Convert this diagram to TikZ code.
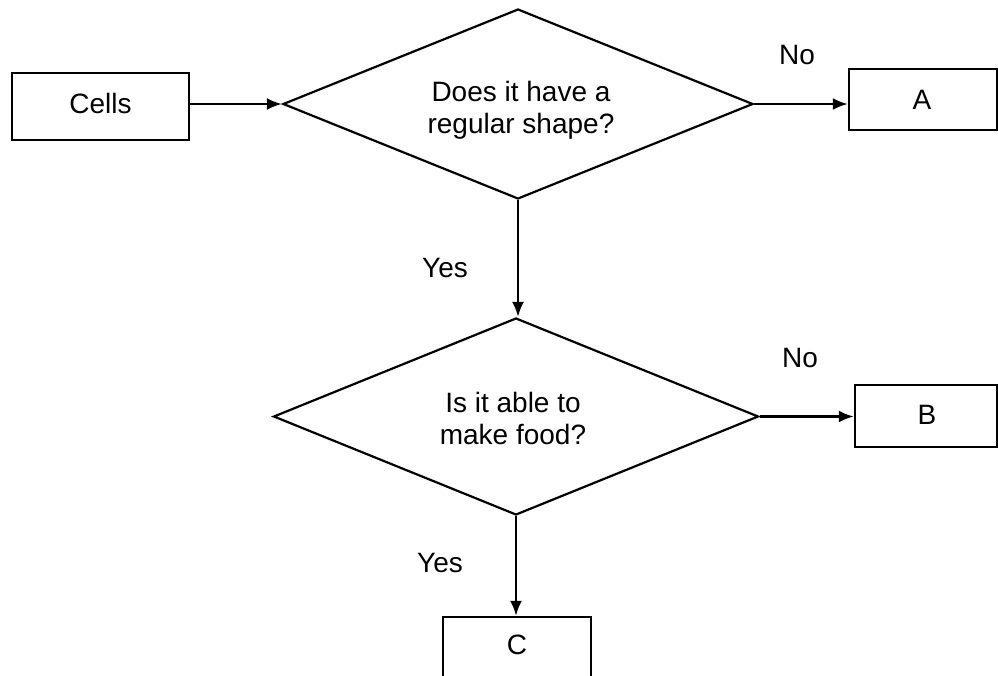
\documentclass[tikz,border=0pt]{standalone}
\usepackage{fontspec}
\setmainfont{Liberation Sans}
\usetikzlibrary{shapes.geometric,arrows.meta}
\tikzset{
  box/.style={draw, line width=2.4pt, rectangle, inner sep=0pt, font=\fontsize{28}{32}\selectfont},
  decision/.style={draw, line width=2.2pt, diamond, inner sep=0pt, align=center, font=\fontsize{28}{32}\selectfont},
  lbl/.style={inner sep=0pt, font=\fontsize{28}{32}\selectfont},
  flow/.style={line width=2.4pt, -{Latex[length=15pt,width=12pt]}}
}
\begin{document}
\begin{tikzpicture}[x=1pt,y=-1pt]
\clip (0,0) rectangle (998,675);
\fill[white] (0,0) rectangle (998,675);
\node[box, minimum width=177pt, minimum height=67pt] (cells) at (100.5,106.5) {};
\node[lbl] (cellst) at (100.5,103) {Cells};
\node[decision, minimum width=470pt, minimum height=190pt] (d1) at (518,104) {};
\node[lbl, align=center] (d1t) at (521,110) {Does it have a\\regular shape?};
\node[box, minimum width=148pt, minimum height=61pt] (A) at (923,99.5) {};
\node[lbl] (At) at (922,100) {A};
\node[decision, minimum width=485pt, minimum height=197pt] (d2) at (516,416.5) {};
\node[lbl, align=center] (d2t) at (513,418) {Is it able to\\make food?};
\node[box, minimum width=142pt, minimum height=62pt] (B) at (926,416) {};
\node[lbl] (Bt) at (927,415) {B};
\node[box, minimum width=148pt, minimum height=70pt] (C) at (517,652) {};
\node[lbl] (Ct) at (517,645) {C};
\node[lbl] (no1) at (797,55) {No};
\node[lbl] (no2) at (800,358) {No};
\node[lbl] (yes1) at (445,268) {Yes};
\node[lbl] (yes2) at (440,563) {Yes};
\draw[flow] (d1.west -| cells.east) -- (d1.west);
\draw[flow] (d1.east) -- (d1.east -| A.west);
\draw[flow] (d1.south) -- (d1.south |- d2.north);
\draw[flow] (d2.east) -- (d2.east -| B.west);
\draw[flow] (d2.south) -- (d2.south |- C.north);
\end{tikzpicture}
\end{document}
